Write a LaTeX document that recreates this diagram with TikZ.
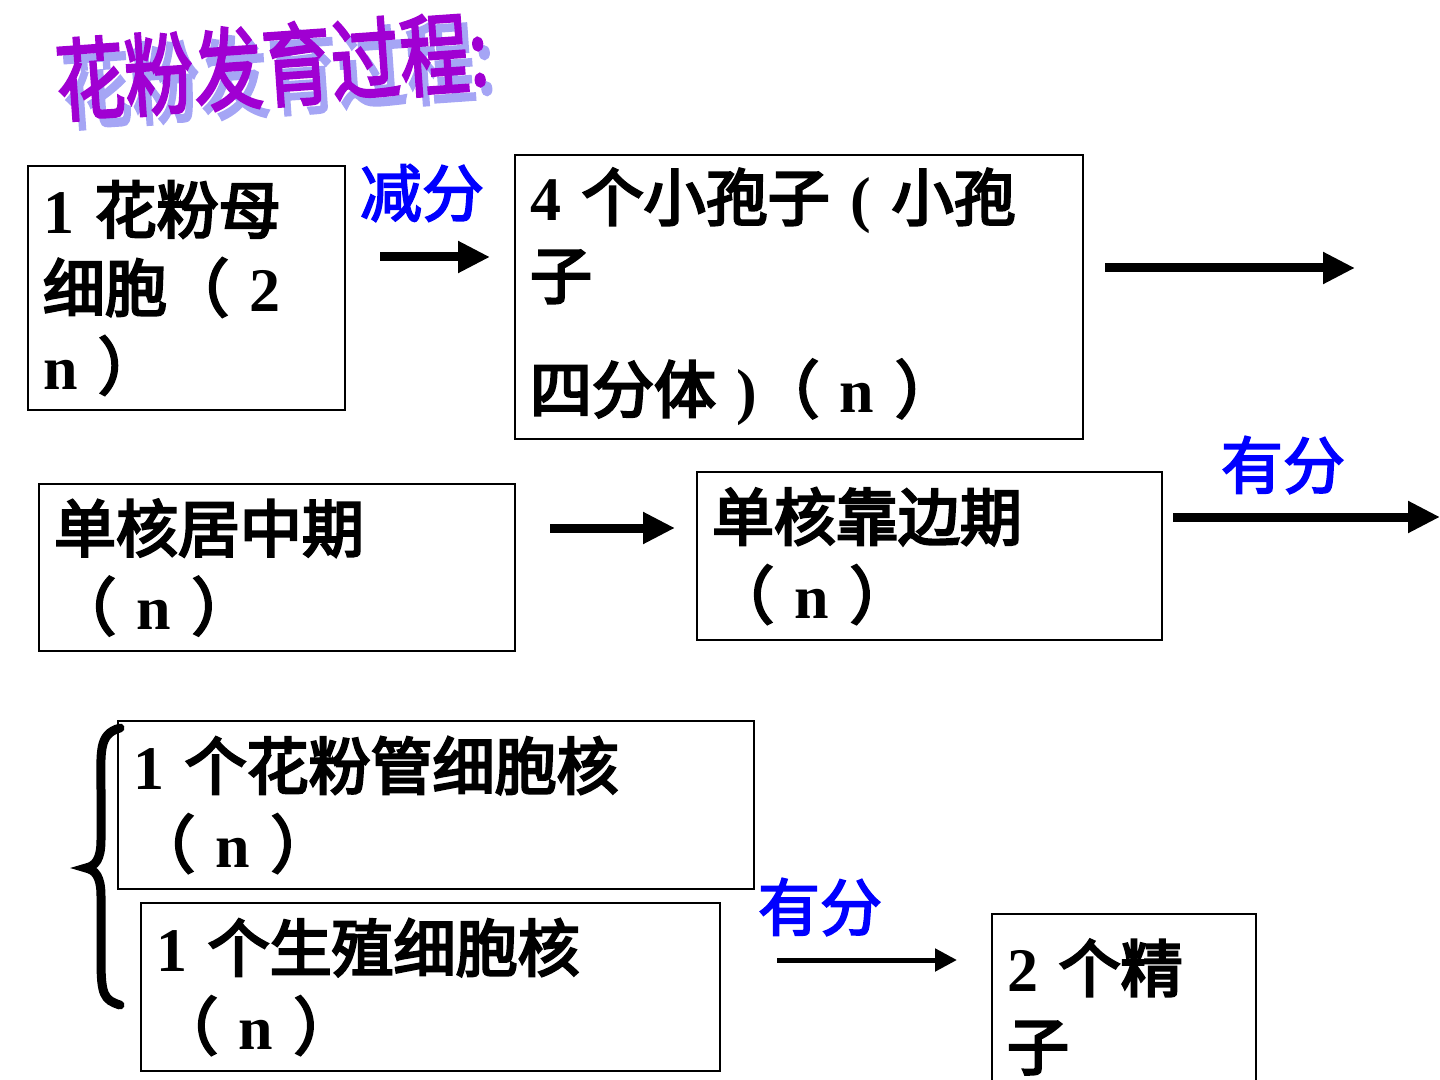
\documentclass[tikz,border=0pt]{standalone}
\usepackage{fontspec}
\setmainfont{Liberation Serif}
\newfontfamily\cjk{Noto Sans CJK SC}[FakeBold=3]
\newfontfamily\cjkb{Noto Sans CJK SC}[FakeBold=4]
\usetikzlibrary{arrows.meta}
\newcommand\en[1]{{\rmfamily\bfseries #1}}
\newcommand\shadowed[1]{\makebox[0pt][l]{\kern3pt\raisebox{-3.5pt}{\textcolor{titleshadow}{#1}}}\textcolor{titlepurple}{#1}}
\definecolor{titlepurple}{RGB}{160,0,210}
\definecolor{titleshadow}{RGB}{165,165,245}
\tikzset{
  box/.style={draw,line width=0.6pt,inner xsep=7.5pt,align=left,
    font=\cjkb\fontsize{31}{39}\selectfont},
  lab/.style={text=blue,font=\cjk\fontsize{31}{36}\selectfont},
  ttl/.style={rotate=4,yscale=1.3,font=\cjk\fontsize{34.5}{40}\selectfont},
  arr/.style={line width=4.5pt,-{Triangle[length=16pt,width=15pt]}},
  arrthin/.style={line width=2.5pt,-{Triangle[length=11pt,width=11pt]}}
}
\begin{document}
\begin{tikzpicture}[x=0.5pt,y=-0.5pt]
\useasboundingbox (0,0) rectangle (1440,1080);
\clip (0,0) rectangle (1440,1080);
% title
\node[ttl] (T1) at (272,70){\shadowed{花粉发育过程:}};

% first row
\node[box,minimum width=158.5pt,minimum height=122pt,text width=143.5pt] (A1) at (186.5,288){\en{1} 花粉母\\细胞（ \en{2}\\\en{n} ）};
\node[box,minimum width=284pt,minimum height=142pt,text width=269pt] (A2) at (799,297){\en{4} 个小孢子 \en{(} 小孢\\子\\[18pt]四分体 \en{)}（ \en{n} ）};
\coordinate (a1) at (380,257);
\coordinate (a2) at (490,257);
\draw[arr](a1)--(a2);
\node[lab] (L1) at (422,193){减分};
\coordinate (a3) at (1105,268);
\coordinate (a4) at (1355,268);
\draw[arr](a3)--(a4);

% second row
\node[box,minimum width=238pt,minimum height=83.5pt,text width=223pt] (B1) at (277,567.5){单核居中期\\（ \en{n} ）};
\node[box,minimum width=232.5pt,minimum height=84pt,text width=217.5pt] (B2) at (929.5,556){单核靠边期\\（ \en{n} ）};
\coordinate (b1) at (550,528);
\coordinate (b2) at (675,528);
\draw[arr](b1)--(b2);
\coordinate (b3) at (1173,517);
\coordinate (b4) at (1440,517);
\draw[arr](b3)--(b4);
\node[lab] (L2) at (1283,465){有分};

% third row
\node[box,minimum width=318pt,minimum height=84pt,text width=303pt] (C1) at (436,805){\en{1} 个花粉管细胞核\\（ \en{n} ）};
\node[box,minimum width=289.5pt,minimum height=84pt,text width=274.5pt] (C2) at (430.5,987){\en{1} 个生殖细胞核\\（ \en{n} ）};
\node[box,minimum width=132pt,minimum height=93pt,text width=117pt] (C3) at (1124,1007){\en{2} 个精\\子};
\draw[line width=4.5pt,line cap=round] (120,728) .. controls (98,734) and (101,752) .. (101,790)
  -- (101,840) .. controls (101,860) and (95,866) .. (86,868)
  .. controls (95,870) and (101,876) .. (101,896)
  -- (101,960) .. controls (101,995) and (104,1000) .. (120,1005);
\coordinate (c1) at (777,960);
\coordinate (c2) at (957,960);
\draw[arrthin](c1)--(c2);
\node[lab] (L3) at (820,907){有分};
\end{tikzpicture}
\end{document}
